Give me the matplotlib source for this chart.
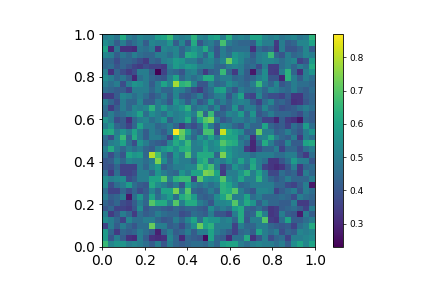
import numpy as np
import matplotlib
matplotlib.use('Agg')
import matplotlib.pyplot as plt

# cell values in hundredths, top row of the picture first
rows_top = [
    [50,52,48,62,50,47, 52,50,50,58,60,66, 52,50,52,64,52,50, 58,60,50,63,50,52, 50,60,60,52,50,52, 48,50,52,48,50,64],
    [54,50,42,50,42,46, 50,42,52,50,50,56, 42,52,40,62,40,48, 50,44,68,50,46,44, 44,42,56,50,50,34, 50,42,44,52,52,60],
    [60,30,48,32,32,31, 48,46,50,33,52,50, 52,44,50,56,52,62, 48,40,50,44,46,46, 46,32,46,42,44,33, 50,40,40,44,52,42],
    [52,50,42,48,44,50, 46,44,44,50,50,46, 52,44,62,60,52,44, 56,40,50,46,56,52, 50,42,50,52,66,44, 40,50,44,46,52,50],
    [44,44,38,44,44,42, 38,34,44,42,50,52, 58,56,50,50,44,50, 52,46,52,72,58,52, 46,44,50,52,52,50, 46,50,52,36,40,58],
    [44,46,40,44,40,36, 34,38,36,36,34,50, 58,54,58,56,50,50, 50,44,44,50,52,50, 44,46,38,50,35,35, 46,50,44,50,46,62],
    [50,32,44,38,34,38, 50,50,42,23,36,46, 44,40,50,52,44,34, 42,44,66,44,34,50, 42,27,44,54,35,34, 50,64,44,32,50,56],
    [54,50,44,48,42,30, 46,50,44,42,40,50, 60,44,50,46,50,62, 62,46,50,50,44,46, 42,44,50,54,40,40, 30,64,50,42,50,46],
    [50,46,50,38,50,56, 54,50,42,50,60,52, 78,64,66,52,40,40, 50,44,46,54,50,46, 44,50,66,50,44,52, 40,44,50,46,46,44],
    [46,44,42,42,36,50, 50,50,44,50,44,44, 52,50,44,38,34,42, 46,58,60,46,40,50, 46,46,50,44,52,50, 46,44,50,44,42,46],
    [34,34,42,52,50,46, 50,46,40,44,50,42, 52,42,40,44,50,40, 44,50,52,40,50,60, 38,36,52,42,38,38, 36,42,33,33,42,44],
    [50,44,38,50,44,44, 52,42,42,50,46,40, 56,50,42,50,40,44, 56,44,50,44,50,52, 50,42,36,46,52,42, 44,40,32,33,40,44],
    [46,34,42,50,44,52, 50,52,64,50,58,50, 52,56,64,46,50,52, 44,52,40,44,56,42, 50,50,42,52,44,42, 38,40,42,46,50,46],
    [44,50,44,46,50,52, 60,46,54,50,46,54, 50,52,56,50,68,44, 66,42,44,52,50,58, 44,56,40,44,50,44, 44,44,42,38,46,42],
    [56,50,38,42,32,44, 50,52,46,50,56,42, 50,52,62,44,60,70, 74,50,40,44,50,50, 46,50,44,36,36,30, 42,34,32,27,44,42],
    [50,56,44,42,36,44, 60,50,50,44,46,50, 44,34,42,38,44,64, 50,40,52,50,44,40, 50,44,44,60,44,40, 42,36,46,42,58,46],
    [60,62,50,56,50,60, 50,42,50,46,42,50, 87,72,60,46,42,68, 68,38,82,62,58,54, 42,44,72,50,50,42, 44,50,44,40,50,56],
    [46,38,52,66,44,62, 50,42,50,50,46,36, 60,70,52,44,56,50, 60,50,62,60,60,46, 50,32,50,52,62,50, 44,42,50,34,50,46],
]
rows_bottom = [
    [44,50,52,60,46,38, 56,50,44,42,40,52, 62,56,66,50,52,58, 52,56,70,64,62,50, 44,30,44,62,50,42, 40,52,42,42,60,62],
    [50,62,50,44,50,46, 50,44,42,50,56,60, 54,62,64,50,50,60, 52,54,62,56,52,50, 34,30,38,44,44,50, 36,44,44,38,46,50],
    [46,38,46,40,60,56, 58,44,80,68,50,42, 56,50,70,50,62,62, 62,44,74,58,52,50, 50,46,50,50,50,46, 46,50,50,40,34,46],
    [40,42,50,44,52,50, 50,46,50,74,54,44, 54,50,50,44,60,64, 46,52,50,56,50,60, 50,60,50,46,33,33, 40,46,58,50,50,40],
    [40,38,44,36,36,36, 50,44,52,58,42,46, 50,50,52,52,68,62, 68,50,36,44,56,50, 46,62,50,36,33,31, 33,40,50,34,44,46],
    [46,34,46,36,36,38, 50,50,44,56,50,46, 44,56,50,60,60,74, 72,60,34,50,50,56, 64,50,60,50,37,37, 46,42,44,34,50,44],
    [54,50,52,54,38,42, 50,50,60,60,70,50, 64,66,66,36,70,56, 54,56,70,54,50,60, 50,50,64,50,44,40, 44,50,44,44,44,50],
    [54,38,46,50,58,46, 42,40,62,54,50,44, 50,40,60,50,46,50, 46,50,64,60,52,44, 46,50,50,50,50,44, 44,38,36,42,50,27],
    [46,36,36,44,38,44, 38,42,52,44,60,60, 74,50,70,44,42,44, 50,44,64,62,70,50, 44,40,52,52,50,36, 42,46,50,40,50,46],
    [50,42,44,50,27,46, 56,44,60,46,52,58, 46,62,66,58,44,42, 44,54,60,70,50,50, 60,46,50,44,44,44, 46,44,38,50,46,44],
    [44,40,44,38,36,42, 50,44,70,62,62,50, 70,50,62,62,50,46, 40,52,52,54,70,52, 62,56,42,50,44,44, 42,42,50,34,34,42],
    [40,44,36,36,34,40, 54,40,44,44,42,40, 44,42,44,44,42,40, 54,46,50,46,58,62, 44,42,46,40,33,35, 42,44,46,42,36,50],
    [50,34,40,50,44,34, 46,42,44,50,46,44, 44,38,40,46,44,42, 50,40,40,36,50,62, 42,44,64,50,33,35, 50,42,40,28,50,42],
    [54,50,44,36,52,46, 46,50,50,44,40,42, 50,44,52,60,46,60, 56,56,50,52,44,62, 40,50,50,70,35,33, 46,60,42,42,46,50],
    [36,50,42,50,44,40, 46,46,72,50,50,42, 44,38,46,54,72,60, 64,50,50,50,36,50, 44,44,50,50,44,42, 40,42,36,46,50,62],
    [58,44,34,44,42,44, 50,46,42,29,44,50, 42,44,50,42,50,50, 60,50,46,42,36,44, 46,42,60,50,46,50, 38,44,42,52,50,52],
    [58,40,50,42,32,31, 50,42,32,31,32,52, 44,31,44,42,40,25, 60,44,42,31,46,46, 62,32,40,50,38,44, 46,36,50,50,52,54],
    [66,52,56,56,50,52, 50,46,42,50,40,50, 44,42,44,46,46,44, 50,44,58,60,60,50, 46,50,52,50,50,46, 50,42,54,60,52,60],
]
axis_ticks = [0.0, 0.2, 0.4, 0.6, 0.8, 1.0]
cbar_ticks = [0.3, 0.4, 0.5, 0.6, 0.7, 0.8]

W, H = 423, 282
grid = np.array(rows_top + rows_bottom) / 100

fig = plt.figure(figsize=(W / 100, H / 100), dpi=100)
ax = fig.add_axes([102 / W, 1 - 247 / H, 213 / W, 213 / H])
im = ax.imshow(grid, cmap='viridis', extent=[0, 1, 0, 1], aspect='auto', interpolation='nearest')
ax.set_xticks(axis_ticks)
ax.set_yticks(axis_ticks)
ax.tick_params(labelsize=10, length=2.5, width=0.6, pad=2.5)
for s in ax.spines.values():
    s.set_linewidth(0.6)

cax = fig.add_axes([333 / W, 1 - 247 / H, 9.5 / W, 213 / H])
cb = fig.colorbar(im, cax=cax)
cb.set_ticks(cbar_ticks)
cb.ax.tick_params(labelsize=6.5, length=2.5, width=0.5, pad=2.5)
cb.outline.set_linewidth(0.6)

fig.savefig('out.png', dpi=100)
